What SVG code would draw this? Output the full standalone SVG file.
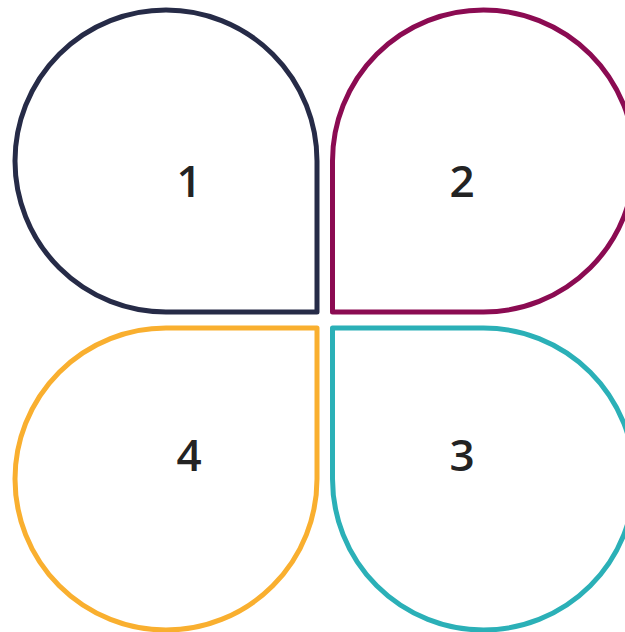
<svg xmlns="http://www.w3.org/2000/svg" width="625" height="632" viewBox="0 0 625 632">
<style>
.petal{fill:none;stroke-width:5;stroke-linejoin:round}
.lbl{font-family:"Open Sans","Liberation Sans",sans-serif;font-weight:600;font-size:44px;fill:#232323;text-anchor:middle}
</style>
<rect width="625" height="632" fill="#ffffff"/>
<g id="node1">
<path class="petal" stroke="#262b47" d="M317 161 A151 151 0 1 0 166 312 L317 312 Z"/>
<text class="lbl" x="189" y="197">1</text>
</g>
<g id="node2">
<path class="petal" stroke="#8b0b52" d="M332.5 161 A151 151 0 1 1 483.5 312 L332.5 312 Z"/>
<text class="lbl" x="462" y="197">2</text>
</g>
<g id="node3">
<path class="petal" stroke="#2bb0b7" d="M483.5 328 A151 151 0 1 1 332.5 479 L332.5 328 Z"/>
<text class="lbl" x="462" y="471">3</text>
</g>
<g id="node4">
<path class="petal" stroke="#f9af2f" d="M317 479 A151 151 0 1 1 166 328 L317 328 Z"/>
<text class="lbl" x="189" y="471">4</text>
</g>
<g id="connectors"></g>
</svg>
